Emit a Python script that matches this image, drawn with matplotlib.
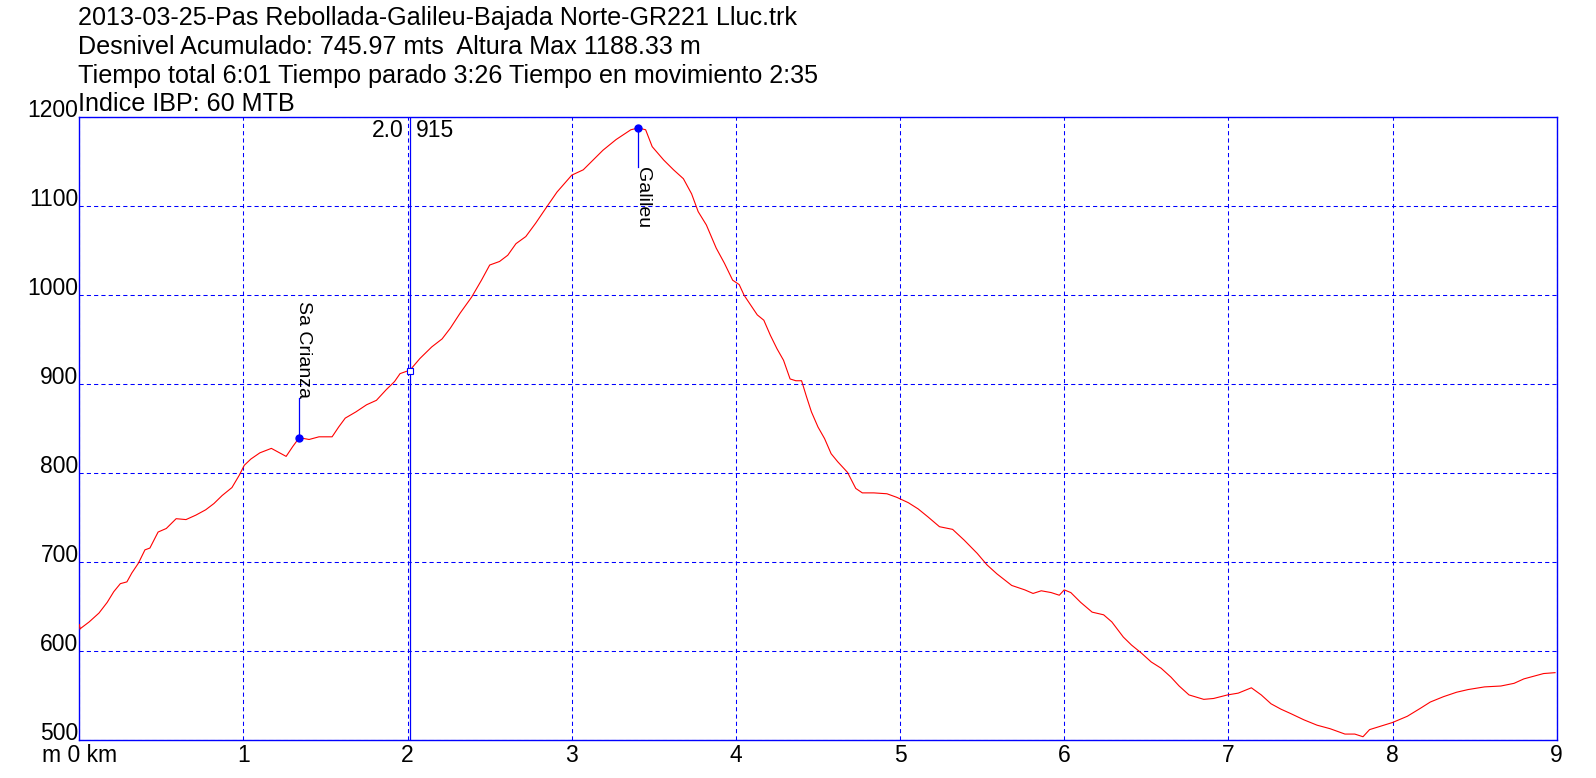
import numpy as np
import matplotlib.pyplot as plt
from matplotlib.ticker import FixedLocator

# elevation profile (km, m)
dist_km = [0.00, 0.005, 0.01, 0.06, 0.12, 0.17, 0.21, 0.25, 0.29, 0.32, 0.36, 0.40, 0.43, 0.48,
           0.53, 0.59, 0.65, 0.71, 0.77, 0.82, 0.87, 0.93, 0.975, 1.005, 1.045, 1.10,
           1.17, 1.22, 1.26, 1.30, 1.34, 1.40, 1.46, 1.54, 1.58, 1.62, 1.685, 1.75,
           1.81, 1.87, 1.92, 1.954, 2.015, 2.075, 2.147, 2.21, 2.26, 2.32, 2.39, 2.45,
           2.50, 2.56, 2.61, 2.66, 2.72, 2.78, 2.85, 2.91, 3.00, 3.07, 3.13, 3.19,
           3.27, 3.36, 3.405, 3.45, 3.49, 3.56, 3.62, 3.68, 3.73, 3.77, 3.82, 3.88,
           3.93, 3.98, 4.02, 4.05, 4.09, 4.13, 4.17, 4.21, 4.25, 4.29, 4.33, 4.365,
           4.40, 4.43, 4.46, 4.50, 4.54, 4.58, 4.62, 4.68, 4.73, 4.77, 4.84, 4.92,
           4.98, 5.05, 5.11, 5.17, 5.24, 5.32, 5.39, 5.47, 5.53, 5.59, 5.68, 5.76,
           5.81, 5.86, 5.92, 5.97, 6.00, 6.04, 6.10, 6.17, 6.24, 6.29, 6.36, 6.41,
           6.47, 6.53, 6.59, 6.65, 6.70, 6.76, 6.85, 6.91, 6.995, 7.06, 7.14, 7.20,
           7.26, 7.32, 7.38, 7.46, 7.54, 7.62, 7.71, 7.77, 7.82, 7.86, 7.93, 8.00,
           8.09, 8.17, 8.23, 8.31, 8.39, 8.46, 8.56, 8.66, 8.74, 8.80, 8.86, 8.92,
           8.99]
elev_m = [630, 625, 626, 633, 643, 655, 667, 676, 678, 688, 699, 714, 716, 734,
          738, 749, 748, 753, 759, 766, 775, 784, 798, 809, 816, 823,
          828, 823, 819, 830, 840, 838, 841, 841, 852, 862, 869, 877,
          882, 894, 903, 912, 916, 929, 942, 951, 963, 980, 998, 1017,
          1034, 1038, 1045, 1058, 1066, 1081, 1100, 1116, 1135, 1141, 1152, 1163,
          1175, 1186, 1188, 1186, 1167, 1152, 1141, 1131, 1114, 1094, 1079, 1053,
          1036, 1017, 1012, 1000, 989, 978, 972, 955, 940, 927, 906, 904,
          904, 886, 869, 852, 839, 822, 813, 801, 783, 778, 778, 777,
          773, 767, 760, 751, 740, 737, 725, 710, 697, 687, 674, 669,
          665, 668, 666, 663, 669, 666, 655, 644, 641, 633, 616, 607,
          598, 588, 581, 571, 561, 551, 546, 547, 551, 553, 559, 551,
          541, 535, 530, 523, 517, 513, 507, 507, 504, 512, 516, 520,
          527, 536, 543, 549, 554, 557, 560, 561, 564, 569, 572, 575,
          576]

title_lines = ["2013-03-25-Pas Rebollada-Galileu-Bajada Norte-GR221 Lluc.trk",
               "Desnivel Acumulado: 745.97 mts  Altura Max 1188.33 m",
               "Tiempo total 6:01 Tiempo parado 3:26 Tiempo en movimiento 2:35",
               "Indice IBP: 60 MTB"]

x_ticks = list(range(0, 10))
x_labels = ["m 0 km"] + [str(k) for k in range(1, 10)]
y_ticks = list(range(500, 1300, 100))

waypoint_names = ["Sa Crianza", "Galileu"]
waypoint_km = [1.34, 3.405]
waypoint_elev = [840, 1188]

cursor_km = 2.015
cursor_elev = 915

BLUE = '#0000FF'
RED = '#FF0000'

plt.rcParams['font.family'] = ['Liberation Sans', 'DejaVu Sans']

fig = plt.figure(figsize=(15.96, 7.78), dpi=100)
ax = fig.add_axes([79.3 / 1596, (778 - 740.3) / 778, 1477.4 / 1596, 623 / 778])

ax.plot(dist_km, elev_m, color=RED, lw=0.8, zorder=3)

ax.set_xlim(0, 9)
ax.set_ylim(500, 1200)
ax.xaxis.set_major_locator(FixedLocator(x_ticks))
ax.yaxis.set_major_locator(FixedLocator(y_ticks))
ax.set_xticklabels(x_labels)
ax.set_yticklabels([str(v) for v in y_ticks])
ax.tick_params(axis='both', length=0, labelsize=16.5, colors='black')
ax.tick_params(axis='y', pad=0.5)
ax.tick_params(axis='x', pad=3)
for lab in ax.get_yticklabels():
    lab.set_verticalalignment('baseline')

ax.grid(True, color=BLUE, lw=0.75, linestyle=(0, (4, 3)))
for sp in ax.spines.values():
    sp.set_color(BLUE)
    sp.set_linewidth(1.0)

# cursor line at 2.0 km
ax.axvline(cursor_km, color=BLUE, lw=0.9, zorder=4)
ax.plot([cursor_km], [cursor_elev], marker='s', ms=4, mfc='white', mec=BLUE, mew=0.8, zorder=5)
ax.annotate("2.0", xy=(cursor_km, 1), xycoords=('data', 'axes fraction'),
            xytext=(-5, -14.5), textcoords='offset points', ha='right', va='baseline', fontsize=16.5)
ax.annotate(str(cursor_elev), xy=(cursor_km, 1), xycoords=('data', 'axes fraction'),
            xytext=(4, -14.5), textcoords='offset points', ha='left', va='baseline', fontsize=16.5)

# waypoints
for name, wk, we in zip(waypoint_names, waypoint_km, waypoint_elev):
    ax.plot([wk], [we], 'o', color=BLUE, ms=5, zorder=5)
    if name == "Sa Crianza":
        ax.plot([wk, wk], [we, we + 45], color=BLUE, lw=0.9, zorder=4)
        ax.annotate(name, xy=(wk, we + 45), xytext=(-3, 0), textcoords='offset points',
                    rotation=270, ha='left', va='bottom', fontsize=14)
    else:
        ax.plot([wk, wk], [we, we - 44], color=BLUE, lw=0.9, zorder=4)
        ax.annotate(name, xy=(wk, we - 44), xytext=(-3, 0), textcoords='offset points',
                    rotation=270, ha='left', va='top', fontsize=14)

baselines = [25.5, 54, 82.5, 111]
for line, b in zip(title_lines, baselines):
    fig.text(78 / 1596, 1 - b / 778, line, ha='left', va='baseline', fontsize=18.1)

fig.savefig('out.png', dpi=100)
